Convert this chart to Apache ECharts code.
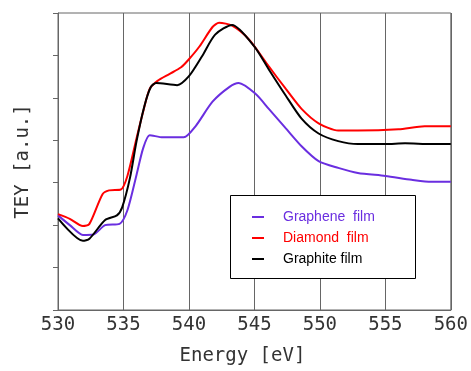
<!DOCTYPE html>
<html><head><meta charset="utf-8">
<script src="https://cdn.jsdelivr.net/npm/echarts@6/dist/echarts.min.js"></script>
<style>html,body{margin:0;padding:0;background:#fff}#c{width:471px;height:371px}</style>
</head><body><div id="c"></div>
<script>
const xTicks = [530, 535, 540, 545, 550, 555, 560];
const grapheneE = [530,530.9,531.9,532.7,533.6,534.7,535.3,536.0,536.5,537.0,538.0,539.6,540.5,541.8,543.1,543.8,545.1,546.1,547.4,548.6,549.9,551.4,552.9,555,557,558.5,560];
const grapheneY = [2.23,2.00,1.77,1.78,2.00,2.03,2.35,3.19,3.81,4.12,4.07,4.07,4.33,4.91,5.26,5.35,5.09,4.74,4.28,3.86,3.51,3.35,3.23,3.16,3.07,3.02,3.02];
const diamondE = [530,530.9,531.9,532.4,533.4,533.9,534.8,535.3,536.0,536.5,537.0,537.6,538.5,539.4,540.0,540.8,541.8,542.3,543.3,544.6,546.1,547.4,548.6,549.9,551.4,552.9,556,558,560];
const diamondY = [2.26,2.15,1.98,2.03,2.73,2.82,2.84,3.16,4.05,4.67,5.21,5.40,5.56,5.72,5.91,6.21,6.67,6.77,6.70,6.37,5.74,5.21,4.74,4.40,4.23,4.23,4.26,4.33,4.33];
const graphiteE = [530,531.9,532.4,533.6,534.5,534.9,535.5,536.0,536.6,537.1,537.5,539.1,540.0,541.0,542.0,543.3,545.0,546.1,547.4,548.6,549.9,551.4,552.9,555,556.5,558.5,560];
const graphiteY = [2.16,1.63,1.68,2.12,2.23,2.42,3.12,3.98,4.81,5.26,5.35,5.30,5.51,5.98,6.49,6.72,6.21,5.67,5.05,4.51,4.16,3.98,3.91,3.91,3.93,3.91,3.91];
const seriesNames = ['Graphene  film', 'Diamond  film', 'Graphite film'];
const seriesColors = ['#6a2ee0', '#ff0000', '#000000'];

const zip = (a, b) => a.map((v, i) => [v, b[i]]);
const mono = '"DejaVu Sans Mono", monospace';
const chart = echarts.init(document.getElementById('c'), null, {renderer: 'canvas'});
chart.setOption({
  animation: false,
  grid: {left: 58, right: 18, top: 13, bottom: 57, show: true, borderColor: '#666', borderWidth: 1},
  xAxis: {
    type: 'value', min: 530, max: 560, interval: 5,
    axisLine: {lineStyle: {color: '#666', width: 1}},
    axisTick: {show: false},
    splitLine: {show: true, lineStyle: {color: '#666', width: 1}},
    axisLabel: {fontFamily: mono, fontSize: 19, color: '#333', margin: 6,
      formatter: v => xTicks.includes(v) ? String(v) : ''},
    name: 'Energy [eV]', nameLocation: 'middle', nameGap: 37,
    nameTextStyle: {fontFamily: mono, fontSize: 19, color: '#333', padding: [0, 24, 0, 0]}
  },
  yAxis: {
    type: 'value', min: 0, max: 7, interval: 1,
    axisLine: {show: true, lineStyle: {color: '#666', width: 1}},
    axisTick: {show: true, length: 5, lineStyle: {color: '#666'}},
    axisLabel: {show: false},
    splitLine: {show: false},
    name: 'TEY [a.u.]', nameLocation: 'middle', nameGap: 25,
    nameTextStyle: {fontFamily: mono, fontSize: 19, color: '#333'}
  },
  legend: {
    orient: 'vertical', left: 252, top: 209, z: 20, padding: 0,
    icon: 'rect', itemWidth: 12, itemHeight: 2, itemGap: 5,
    textStyle: {fontFamily: '"Liberation Sans", Arial, sans-serif', fontSize: 14, lineHeight: 16, padding: [0, 0, 0, 14]},
    data: seriesNames.map((n, i) => ({name: n, textStyle: {color: seriesColors[i]}}))
  },
  graphic: [{type: 'rect', left: 230, top: 195, shape: {width: 185, height: 83},
    style: {fill: '#fff', stroke: '#000', lineWidth: 1}, z: 10}],
  series: [
    {name: seriesNames[0], type: 'line', smooth: 0.25, data: zip(grapheneE, grapheneY), showSymbol: false, lineStyle: {width: 2, color: seriesColors[0]}, itemStyle: {color: seriesColors[0]}},
    {name: seriesNames[1], type: 'line', smooth: 0.25, data: zip(diamondE, diamondY), showSymbol: false, lineStyle: {width: 2, color: seriesColors[1]}, itemStyle: {color: seriesColors[1]}},
    {name: seriesNames[2], type: 'line', smooth: 0.25, data: zip(graphiteE, graphiteY), showSymbol: false, lineStyle: {width: 2, color: seriesColors[2]}, itemStyle: {color: seriesColors[2]}}
  ]
});
</script></body></html>
